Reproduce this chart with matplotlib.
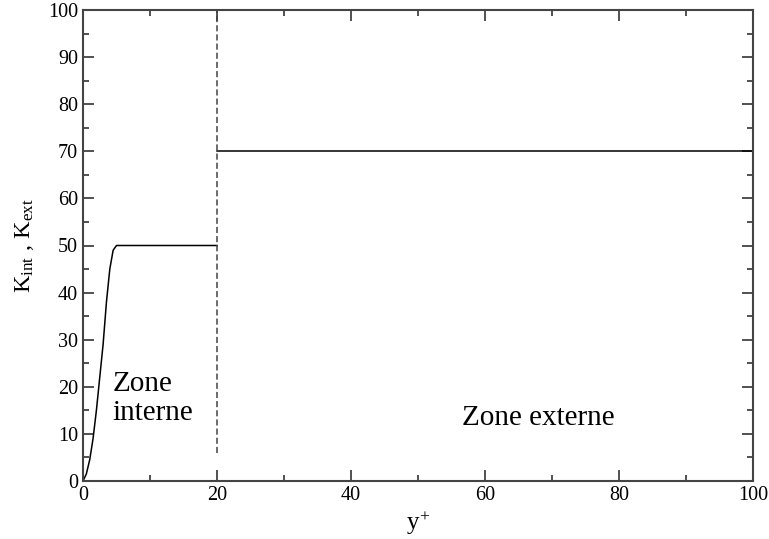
import matplotlib
matplotlib.use("Agg")
import matplotlib.pyplot as plt
from matplotlib.ticker import MultipleLocator

plt.rcParams['font.family'] = ['Liberation Serif', 'DejaVu Serif']
plt.rcParams['mathtext.fontset'] = 'custom'
plt.rcParams['mathtext.rm'] = 'Liberation Serif'
plt.rcParams['mathtext.it'] = 'Liberation Serif:italic'

# inner zone curve
x_int = [0, 0.5, 1.0, 1.5, 2.0, 2.5, 3.0, 3.5, 4.0, 4.5, 5.0, 20]
k_int = [0, 1.5, 4.5, 9.0, 15.0, 22.0, 29.0, 38.0, 45.0, 49.0, 50.0, 50.0]
# outer zone
x_ext = [20, 100]
k_ext = [70, 70]
# boundary
x_bound = [20, 20]
y_bound = [6, 100]

fig = plt.figure(figsize=(7.69, 5.39), dpi=100)
ax = fig.add_axes([83/769, 1-481/539, 670/769, 471/539])

ax.plot(x_int, k_int, color='black', lw=1.1)
ax.plot(x_ext, k_ext, color='black', lw=1.1)
ax.plot(x_bound, y_bound, color='#444444', lw=1.1, ls=(0, (4, 2)))

ax.set_xlim(0, 100)
ax.set_ylim(0, 100)
ax.xaxis.set_major_locator(MultipleLocator(20))
ax.xaxis.set_minor_locator(MultipleLocator(10))
ax.yaxis.set_major_locator(MultipleLocator(10))
ax.yaxis.set_minor_locator(MultipleLocator(5))
ax.tick_params(which='both', direction='in', top=True, right=True, labelsize=14.5, color='#333333', width=1.2)
ax.tick_params(which='major', length=8)
ax.tick_params(which='minor', length=4)
for s in ax.spines.values():
    s.set_linewidth(1.5)
    s.set_color('#444444')

ax.set_xlabel(r'y$^{\!+}$', fontsize=18, labelpad=3)
ax.set_ylabel(r'K$_{\mathrm{int}}$ , K$_{\mathrm{ext}}$', fontsize=17.5, labelpad=9)

ax.text(4.4, 19.1, 'Zone', fontsize=21, ha='left', va='baseline')
ax.text(4.4, 12.95, 'interne', fontsize=21, ha='left', va='baseline')
ax.text(68, 11.9, 'Zone externe', fontsize=21, ha='center', va='baseline')

fig.savefig('out.png', dpi=100)
